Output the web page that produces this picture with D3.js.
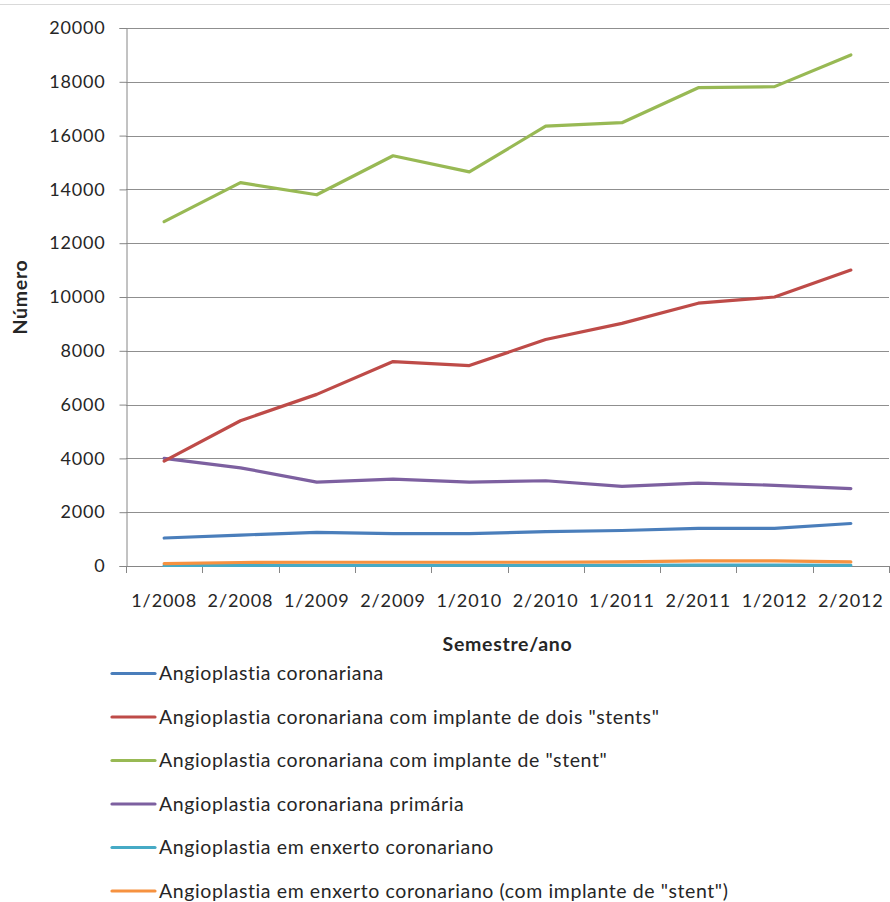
<!DOCTYPE html>
<html>
<head>
<meta charset="utf-8">
<script src="https://cdn.jsdelivr.net/npm/d3@7"></script>
<style>
  html, body { margin: 0; padding: 0; background: #fff; }
  svg { display: block; }
  text { font-family: Lato, "Open Sans", sans-serif; fill: #262626; }
</style>
</head>
<body>
<svg id="chart" width="890" height="902"></svg>
<script>
const categories = ["1/2008", "2/2008", "1/2009", "2/2009", "1/2010", "2/2010", "1/2011", "2/2011", "1/2012", "2/2012"];
const seriesNames = [
  "Angioplastia coronariana",
  "Angioplastia coronariana com implante de dois \"stents\"",
  "Angioplastia coronariana com implante de \"stent\"",
  "Angioplastia coronariana primária",
  "Angioplastia em enxerto coronariano",
  "Angioplastia em enxerto coronariano (com implante de \"stent\")"
];
const angioplastia = [1040, 1150, 1250, 1200, 1200, 1280, 1320, 1400, 1400, 1580];
const doisStents = [3900, 5400, 6380, 7600, 7450, 8420, 9020, 9770, 10000, 11000];
const umStent = [12800, 14250, 13800, 15250, 14650, 16350, 16480, 17780, 17820, 19000];
const primaria = [4000, 3650, 3120, 3230, 3120, 3170, 2960, 3080, 3000, 2880];
const enxerto = [20, 25, 25, 25, 25, 25, 25, 30, 30, 25];
const enxertoStent = [90, 130, 140, 140, 140, 140, 150, 190, 190, 150];
const yTicks = [0, 2000, 4000, 6000, 8000, 10000, 12000, 14000, 16000, 18000, 20000];
const colors = ["#4A7EBB", "#BE4B48", "#98B954", "#7D60A0", "#46AAC5", "#F69240"];

const allSeries = [angioplastia, doisStents, umStent, primaria, enxerto, enxertoStent];

const svg = d3.select("#chart");
const pLeft = 126, pRight = 889, pTop = 28, pBottom = 566;

// top border
svg.append("line").attr("x1", 0).attr("x2", 890).attr("y1", 4.5).attr("y2", 4.5)
  .attr("stroke", "#d9d9d9").attr("stroke-width", 1);

const x = d3.scaleBand().domain(categories).range([pLeft, pRight]);
const y = d3.scaleLinear().domain([0, 20000]).range([pBottom, pTop]);

// gridlines
svg.append("g").selectAll("line").data(yTicks.filter(d => d > 0)).join("line")
  .attr("x1", pLeft).attr("x2", pRight)
  .attr("y1", d => Math.round(y(d)) + 0.5).attr("y2", d => Math.round(y(d)) + 0.5)
  .attr("stroke", "#8f8f8f").attr("stroke-width", 1);

// y axis
const yAxis = svg.append("g").attr("transform", `translate(${pLeft + 0.5},0)`)
  .call(d3.axisLeft(y).tickValues(yTicks).tickSize(7).tickPadding(14).tickFormat(d3.format("d")));
yAxis.select(".domain").attr("stroke", "#868686");
yAxis.selectAll(".tick line").attr("stroke", "#868686");
yAxis.selectAll(".tick text").attr("font-size", 18).attr("font-family", "Lato")
  .attr("letter-spacing", 0.8).attr("fill", "#262626");

// x axis
const xAxis = svg.append("g").attr("transform", `translate(0,${pBottom + 0.5})`)
  .call(d3.axisBottom(x).tickSize(0).tickPadding(28));
xAxis.select(".domain").attr("stroke", "#868686").attr("d", `M${pLeft},0H${pRight}`);
xAxis.selectAll(".tick text").attr("font-size", 18).attr("font-family", "Lato")
  .attr("letter-spacing", 0.9).attr("fill", "#262626");
// tick marks at band boundaries
svg.append("g").selectAll("line").data(categories.concat(["_end"])).join("line")
  .attr("x1", (d, i) => Math.round(pLeft + i * x.step()) + 0.5)
  .attr("x2", (d, i) => Math.round(pLeft + i * x.step()) + 0.5)
  .attr("y1", pBottom).attr("y2", pBottom + 7)
  .attr("stroke", "#868686");

// series lines
const line = d3.line()
  .x((d, i) => x(categories[i]) + x.bandwidth() / 2)
  .y(d => y(d));

const order = [4, 5, 0, 3, 1, 2];
order.forEach(k => {
  svg.append("path").datum(allSeries[k])
    .attr("d", line)
    .attr("fill", "none")
    .attr("stroke", colors[k])
    .attr("stroke-width", 3.2)
    .attr("stroke-linejoin", "round")
    .attr("stroke-linecap", "round");
});

// axis titles
svg.append("text")
  .attr("transform", `translate(27,${(pTop + pBottom) / 2}) rotate(-90)`)
  .attr("text-anchor", "middle")
  .attr("font-size", 19.5).attr("font-weight", "bold").attr("letter-spacing", 0.7)
  .text("Número");
svg.append("text")
  .attr("x", (pLeft + pRight) / 2).attr("y", 651)
  .attr("text-anchor", "middle")
  .attr("font-size", 19.5).attr("font-weight", "bold").attr("letter-spacing", 0.7)
  .text("Semestre/ano");

// legend
const legend = svg.append("g");
seriesNames.forEach((name, i) => {
  const ly = 673.5 + i * 43.5;
  legend.append("line")
    .attr("x1", 112).attr("x2", 155).attr("y1", ly).attr("y2", ly)
    .attr("stroke", colors[i]).attr("stroke-width", 3.2).attr("stroke-linecap", "round");
  legend.append("text")
    .attr("x", 159).attr("y", ly + 6.5)
    .attr("font-size", 19.5).attr("letter-spacing", 0.6)
    .text(name);
});
</script>
</body>
</html>
